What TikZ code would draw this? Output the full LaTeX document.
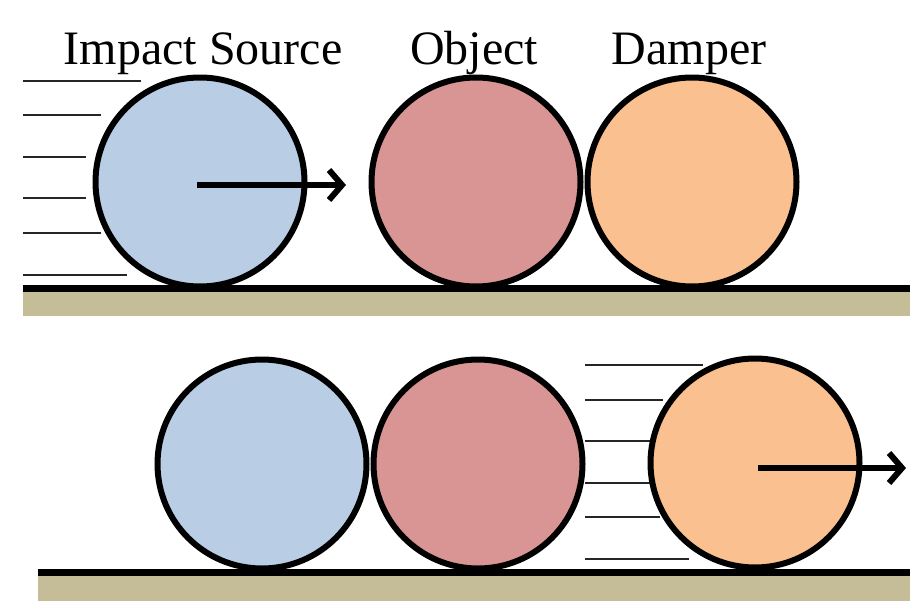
\documentclass[tikz,border=0pt]{standalone}
\usepackage{fontspec}
\setmainfont{Liberation Serif}
\usetikzlibrary{arrows.meta}
\definecolor{cblue}{HTML}{B9CDE5}
\definecolor{cred}{HTML}{D99594}
\definecolor{corange}{HTML}{FAC090}
\definecolor{ctan}{HTML}{C4BD97}
\begin{document}
\begin{tikzpicture}[x=1pt,y=-1pt,
  ball/.style={circle,draw=black,line width=6pt,minimum size=209pt,inner sep=0pt},
  speed/.style={line width=2.2pt,black!85},
  motion/.style={line width=6pt,-{Straight Barb[length=13pt,width=30pt]}},
  lbl/.style={anchor=base,inner sep=0pt,font=\fontsize{48}{50}\selectfont}]
\useasboundingbox (0,0) rectangle (910,613);
% grounds
\fill[ctan] (23,291) rectangle (910,316);
\fill[black] (23,285) rectangle (910,292);
\fill[ctan] (38,575) rectangle (910,601);
\fill[black] (38,569) rectangle (910,576);
% top speed lines
\foreach \yy/\xx in {81/141,115/101,157/86,198/86,233/101,275/127}
  \draw[speed] (23,\yy) -- (\xx,\yy);
% bottom speed lines
\foreach \yy/\xx in {365/703,400/663,441/650,483/650,517/660,559/689}
  \draw[speed] (585,\yy) -- (\xx,\yy);
% top balls
\node[ball,fill=cblue] (s1) at (200,182) {};
\node[ball,fill=cred] (o1) at (476,182) {};
\node[ball,fill=corange] (d1) at (692,182) {};
% bottom balls
\node[ball,fill=cblue] (s2) at (262,464) {};
\node[ball,fill=cred] (o2) at (478,464) {};
\node[ball,fill=corange] (d2) at (755,463) {};
% labels
\node[lbl] (ls) at (203,64) {Impact Source};
\node[lbl] (lo) at (474,64) {Object};
\node[lbl] (ld) at (689,64) {Damper};
% arrows
\coordinate (a1s) at (197,185);
\coordinate (a1e) at (346,185);
\coordinate (a2s) at (758,468);
\coordinate (a2e) at (906,468);
\draw[motion] (a1s) -- (a1e);
\draw[motion] (a2s) -- (a2e);
\end{tikzpicture}
\end{document}
